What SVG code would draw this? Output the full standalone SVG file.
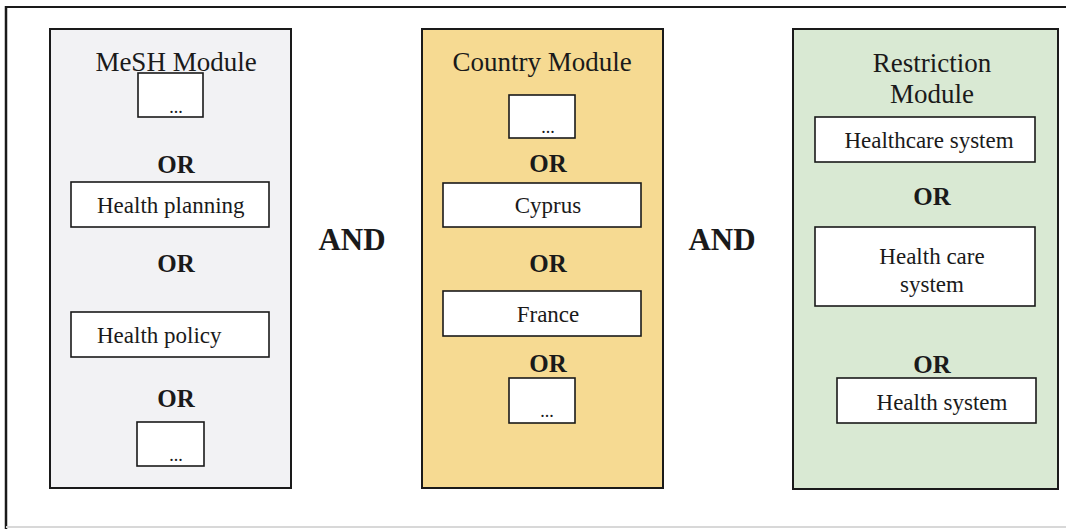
<svg xmlns="http://www.w3.org/2000/svg" width="1066" height="529" viewBox="0 0 1066 529">
  <style>
    .module { stroke: #1a1a1a; stroke-width: 2; }
    .box { fill: #ffffff; stroke: #1a1a1a; stroke-width: 1.6; }
    .title { font-family: "Liberation Serif", "Times New Roman", serif; font-size: 27px; fill: #1a1a1a; text-anchor: middle; }
    .term { font-family: "Liberation Serif", "Times New Roman", serif; font-size: 23px; fill: #1a1a1a; }
    .mid { text-anchor: middle; }
    .or { font-family: "Liberation Serif", "Times New Roman", serif; font-size: 25px; font-weight: bold; fill: #1a1a1a; text-anchor: middle; }
    .and { font-family: "Liberation Serif", "Times New Roman", serif; font-size: 31px; font-weight: bold; fill: #1a1a1a; text-anchor: middle; }
    .dots { font-family: "Liberation Serif", "Times New Roman", serif; font-size: 18px; fill: #1a1a1a; text-anchor: middle; }
  </style>
  <rect width="1066" height="529" fill="#ffffff"/>
  <g id="frame">
    <line x1="6" y1="7" x2="1066" y2="7" stroke="#1a1a1a" stroke-width="2"/>
    <line x1="6" y1="6" x2="6" y2="529" stroke="#1a1a1a" stroke-width="2.5"/>
    <line x1="6" y1="527" x2="1066" y2="527" stroke="#d8d8d8" stroke-width="2"/>
  </g>

  <g id="mesh-module">
    <rect class="module" x="50" y="29" width="241" height="459" fill="#f2f2f4"/>
    <text class="title" x="176" y="71">MeSH Module</text>
    <rect class="box" x="138" y="73" width="65" height="44"/>
    <text class="dots" x="176" y="113">...</text>
    <text class="or" x="176" y="173">OR</text>
    <rect class="box" x="71" y="182" width="198" height="45"/>
    <text class="term" x="97" y="213">Health planning</text>
    <text class="or" x="176" y="272">OR</text>
    <rect class="box" x="71" y="312" width="198" height="45"/>
    <text class="term" x="97" y="343">Health policy</text>
    <text class="or" x="176" y="407">OR</text>
    <rect class="box" x="137" y="422" width="67" height="44"/>
    <text class="dots" x="176" y="461">...</text>
  </g>

  <g id="country-module">
    <rect class="module" x="422" y="29" width="241" height="459" fill="#f6da92"/>
    <text class="title" x="542" y="71">Country Module</text>
    <rect class="box" x="509" y="95" width="66" height="43"/>
    <text class="dots" x="548" y="133">...</text>
    <text class="or" x="548" y="172">OR</text>
    <rect class="box" x="443" y="183" width="198" height="44"/>
    <text class="term mid" x="548" y="213">Cyprus</text>
    <text class="or" x="548" y="272">OR</text>
    <rect class="box" x="443" y="291" width="198" height="45"/>
    <text class="term mid" x="548" y="322">France</text>
    <text class="or" x="548" y="372">OR</text>
    <rect class="box" x="509" y="378" width="66" height="45"/>
    <text class="dots" x="547" y="417">...</text>
  </g>

  <g id="restriction-module">
    <rect class="module" x="793" y="29" width="265" height="460" fill="#d9e9d3"/>
    <text class="title" x="932" y="72">Restriction</text>
    <text class="title" x="932" y="103">Module</text>
    <rect class="box" x="815" y="117" width="220" height="45"/>
    <text class="term mid" x="929" y="148">Healthcare system</text>
    <text class="or" x="932" y="205">OR</text>
    <rect class="box" x="815" y="227" width="220" height="79"/>
    <text class="term mid" x="932" y="264">Health care</text>
    <text class="term mid" x="932" y="292">system</text>
    <text class="or" x="932" y="373">OR</text>
    <rect class="box" x="837" y="378" width="199" height="45"/>
    <text class="term mid" x="942" y="410">Health system</text>
  </g>

  <g id="connectors">
    <text id="and-1" class="and" x="352" y="250">AND</text>
    <text id="and-2" class="and" x="722" y="250">AND</text>
  </g>
</svg>
